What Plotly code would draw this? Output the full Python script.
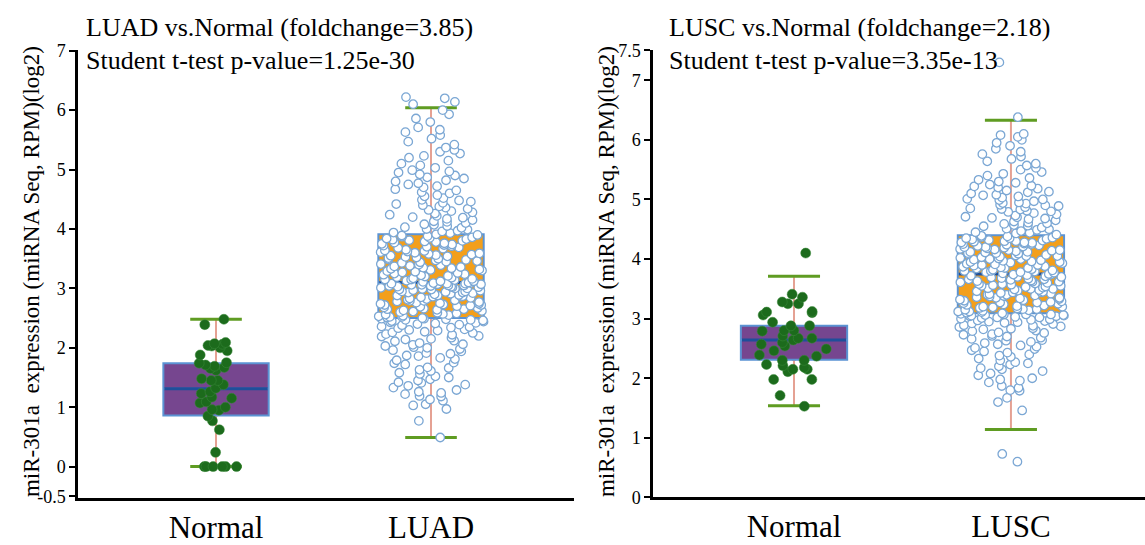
import plotly.graph_objects as go

# ---------------- data ----------------
categories_left = ["Normal", "LUAD"]
categories_right = ["Normal", "LUSC"]

titles_left = ["LUAD vs.Normal (foldchange=3.85)", "Student t-test p-value=1.25e-30"]
titles_right = ["LUSC vs.Normal (foldchange=2.18)", "Student t-test p-value=3.35e-13"]
y_title = "miR-301a  expression (miRNA Seq, RPM)(log2)"

# box statistics [Normal, Tumor]
left_q1 = [0.86, 2.50]
left_median = [1.31, 3.10]
left_q3 = [1.74, 3.91]
left_lower = [0.0, 0.49]
left_upper = [2.48, 6.04]

right_q1 = [2.31, 3.09]
right_median = [2.64, 3.75]
right_q3 = [2.88, 4.40]
right_lower = [1.54, 1.14]
right_upper = [3.71, 6.33]

left_ticks = [-0.5, 0, 1, 2, 3, 4, 5, 6, 7]
left_ticktext = ["-0.5", "0", "1", "2", "3", "4", "5", "6", "7"]
right_ticks = [0, 1, 2, 3, 4, 5, 6, 7, 7.5]
right_ticktext = ["0", "1", "2", "3", "4", "5", "6", "7", "7.5"]

normal_luad = [2.48, 2.39, 2.09, 2.07, 2.06, 2.04, 2.03, 2.00, 1.95, 1.88,
               1.75, 1.74, 1.71, 1.69, 1.67, 1.65, 1.62, 1.48, 1.45, 1.45,
               1.38, 1.32, 1.26, 1.23, 1.17, 1.15, 1.09, 1.07, 1.00, 0.96,
               0.95, 0.85, 0.77, 0.62, 0.24, 0.0, 0.0, 0.0, 0.0, 0.0, 0.0]

luad = [0.49, 0.77, 0.97, 1.03, 1.05, 1.11, 1.13, 1.18, 1.19, 1.22,
        1.24, 1.26, 1.29, 1.33, 1.36, 1.38, 1.41, 1.42, 1.45, 1.47,
        1.5, 1.52, 1.56, 1.58, 1.61, 1.63, 1.66, 1.67, 1.72, 1.74,
        1.75, 1.79, 1.81, 1.83, 1.86, 1.87, 1.9, 1.91, 1.94, 1.96,
        1.98, 2.0, 2.01, 2.03, 2.05, 2.06, 2.08, 2.11, 2.12, 2.14,
        2.15, 2.17, 2.19, 2.2, 2.22, 2.23, 2.25, 2.26, 2.27, 2.29,
        2.3, 2.31, 2.33, 2.34, 2.35, 2.36, 2.38, 2.39, 2.4, 2.41,
        2.42, 2.43, 2.44, 2.45, 2.46, 2.47, 2.47, 2.48, 2.49, 2.49,
        2.5, 2.51, 2.52, 2.52, 2.54, 2.55, 2.56, 2.57, 2.58, 2.6,
        2.61, 2.62, 2.63, 2.64, 2.65, 2.66, 2.67, 2.68, 2.69, 2.7,
        2.71, 2.72, 2.73, 2.74, 2.74, 2.75, 2.76, 2.77, 2.78, 2.79,
        2.8, 2.81, 2.82, 2.83, 2.84, 2.85, 2.86, 2.86, 2.87, 2.88,
        2.89, 2.9, 2.91, 2.92, 2.93, 2.94, 2.95, 2.95, 2.96, 2.97,
        2.98, 2.99, 3.0, 3.0, 3.01, 3.02, 3.03, 3.03, 3.04, 3.05,
        3.05, 3.06, 3.06, 3.07, 3.07, 3.08, 3.08, 3.08, 3.09, 3.09,
        2.53, 2.59, 2.65, 2.72, 2.79, 2.88, 2.93, 2.98, 3.02, 3.04,
        3.1, 3.11, 3.12, 3.13, 3.14, 3.15, 3.16, 3.17, 3.18, 3.19,
        3.2, 3.21, 3.23, 3.24, 3.25, 3.27, 3.28, 3.29, 3.31, 3.32,
        3.33, 3.35, 3.36, 3.37, 3.39, 3.4, 3.41, 3.43, 3.44, 3.45,
        3.47, 3.48, 3.49, 3.51, 3.52, 3.53, 3.55, 3.56, 3.57, 3.59,
        3.6, 3.61, 3.63, 3.64, 3.65, 3.67, 3.68, 3.69, 3.71, 3.72,
        3.73, 3.75, 3.76, 3.77, 3.79, 3.8, 3.81, 3.83, 3.84, 3.85,
        3.87, 3.88, 3.89, 3.12, 3.22, 3.34, 3.46, 3.58, 3.7, 3.82,
        3.15, 3.26, 3.38, 3.5, 3.62, 3.74, 3.86, 3.3, 3.54, 3.78,
        3.9, 3.91, 3.93, 3.94, 3.96, 3.97, 3.99, 4.0, 4.02, 4.03,
        4.05, 4.07, 4.08, 4.1, 4.12, 4.13, 4.15, 4.17, 4.19, 4.2,
        4.22, 4.24, 4.26, 4.28, 4.3, 4.32, 4.34, 4.36, 4.38, 4.4,
        4.42, 4.44, 4.46, 4.48, 4.49,
        4.52, 4.55, 4.57, 4.6, 4.62, 4.65, 4.67, 4.7, 4.72, 4.75,
        4.77, 4.8, 4.82, 4.85, 4.87, 4.9, 4.92, 4.95, 4.97, 4.99,
        5.03, 5.07, 5.1, 5.15, 5.2, 5.23, 5.27, 5.3, 5.33, 5.37, 5.42, 5.47,
        5.52, 5.58, 5.63, 5.67, 5.71, 5.8, 5.86, 5.93, 6.0, 6.1, 6.14, 6.2, 6.22]

normal_lusc = [4.10, 3.41, 3.36, 3.28, 3.25, 3.25, 3.11, 3.06, 3.12, 3.10,
               2.94, 2.88, 2.88, 2.80, 2.80, 2.79, 2.71, 2.67, 2.64, 2.67,
               2.60, 2.57, 2.54, 2.49, 2.46, 2.39, 2.37, 2.30, 2.30, 2.23,
               2.21, 2.18, 2.15, 2.15, 2.11, 1.98, 1.98, 1.71, 1.53]

lusc = [0.6, 0.73, 1.46, 1.6, 1.67, 1.79, 1.8, 1.84, 1.87, 1.93,
        1.96, 1.98, 2.0, 2.05, 2.08, 2.12, 2.15, 2.17, 2.2, 2.23,
        2.25, 2.27, 2.3, 2.33, 2.36, 2.38, 2.4, 2.43, 2.45, 2.47,
        2.49, 2.51, 2.53, 2.55, 2.57, 2.59, 2.61, 2.63, 2.64, 2.66,
        2.68, 2.7, 2.71, 2.73, 2.74, 2.76, 2.77, 2.79, 2.8, 2.82,
        2.83, 2.84, 2.86, 2.87, 2.88, 2.89, 2.91, 2.92, 2.93, 2.94,
        2.95, 2.96, 2.97, 2.98, 2.99, 3.0, 3.01, 3.02, 3.02, 3.03,
        3.04, 3.04, 3.05, 3.05, 3.06, 3.06, 3.07, 3.07, 3.07, 3.08,
        3.09, 3.1, 3.11, 3.12, 3.13, 3.14, 3.15, 3.16, 3.17, 3.18,
        3.19, 3.2, 3.21, 3.22, 3.23, 3.24, 3.25, 3.26, 3.27, 3.28,
        3.29, 3.3, 3.31, 3.32, 3.33, 3.34, 3.35, 3.36, 3.37, 3.38,
        3.39, 3.4, 3.41, 3.42, 3.43, 3.44, 3.45, 3.46, 3.47, 3.48,
        3.49, 3.5, 3.51, 3.52, 3.53, 3.54, 3.55, 3.56, 3.57, 3.58,
        3.59, 3.6, 3.61, 3.62, 3.63, 3.64, 3.65, 3.66, 3.67, 3.68,
        3.69, 3.7, 3.71, 3.72, 3.73, 3.74, 3.74, 3.12, 3.27, 3.44,
        3.58, 3.66, 3.2, 3.35, 3.5, 3.62, 3.7, 3.16, 3.4, 3.55,
        3.75, 3.76, 3.77, 3.78, 3.79, 3.8, 3.81, 3.82, 3.83, 3.84,
        3.85, 3.86, 3.87, 3.88, 3.89, 3.9, 3.91, 3.92, 3.93, 3.94,
        3.95, 3.96, 3.97, 3.98, 3.99, 4.0, 4.01, 4.02, 4.03, 4.04,
        4.05, 4.06, 4.07, 4.08, 4.09, 4.1, 4.11, 4.12, 4.13, 4.14,
        4.15, 4.16, 4.17, 4.18, 4.19, 4.2, 4.21, 4.22, 4.23, 4.24,
        4.25, 4.26, 4.27, 4.28, 4.29, 4.3, 4.31, 4.32, 4.33, 4.34,
        4.35, 4.36, 4.37, 4.38, 4.39, 3.8, 3.9, 4.0, 4.1, 4.2,
        4.3, 3.85, 3.95, 4.05, 4.15, 4.25, 4.35, 3.78, 4.12, 4.28,
        4.41, 4.43, 4.45, 4.47, 4.49, 4.51, 4.53, 4.55, 4.57, 4.59,
        4.61, 4.63, 4.65, 4.67, 4.69, 4.71, 4.73, 4.75, 4.77, 4.79,
        4.81, 4.83, 4.85, 4.87, 4.89, 4.91, 4.93, 4.95, 4.97, 4.99,
        5.01, 5.03, 5.05, 5.08, 5.1, 5.13, 5.15, 5.18, 5.2, 5.23,
        5.25, 5.28, 5.3, 5.33, 5.36, 5.4, 5.43, 5.46, 5.5, 5.53,
        5.57, 5.6, 5.64, 5.68, 5.72, 5.76, 5.8, 5.85, 5.9, 5.95,
        6.0, 6.05, 6.08, 6.1, 6.38, 7.3, 4.5, 4.6, 4.7, 4.8,
        4.9, 5.0, 5.12, 5.22, 4.44, 4.56, 4.68, 4.84, 4.94, 5.07]

# ---------------- styles ----------------
FONT = "Liberation Serif, Times New Roman, serif"
BOX_W = 0.49
CAP_W = 0.24
BOX_FILLS = ["#76468f", "#f39f1b"]
BOX_EDGE = "#5b93d3"
MEDIAN_COLOR = "#1f4f9a"
WHISKER_COLOR = "#e5a193"
CAP_COLOR = "#5f9c22"
NORMAL_PT = "#1c6b1c"
TUMOR_PT_EDGE = "#7ba7d4"

fig = go.Figure()
NOHOVER = dict(showlegend=False, hoverinfo="skip")


def add_panel(xa, ya, q1, med, q3, lo, hi, normal_vals, tumor_vals):
    positions = [0, 1]
    for i, p in enumerate(positions):
        # whisker (thin box hidden behind the main box, whiskers only visible)
        fig.add_trace(go.Box(x=[p], q1=[q1[i]], median=[med[i]], q3=[q3[i]],
                             lowerfence=[lo[i]], upperfence=[hi[i]], whiskerwidth=0,
                             width=0.01, fillcolor=WHISKER_COLOR,
                             line=dict(color=WHISKER_COLOR, width=2),
                             xaxis=xa, yaxis=ya, **NOHOVER))
        # caps (flat boxes)
        for v in (lo[i], hi[i]):
            fig.add_trace(go.Box(x=[p], q1=[v], median=[v], q3=[v],
                                 lowerfence=[v], upperfence=[v], whiskerwidth=0,
                                 width=CAP_W, line=dict(color=CAP_COLOR, width=3),
                                 xaxis=xa, yaxis=ya, **NOHOVER))
        # main box
        fig.add_trace(go.Box(x=[p], q1=[q1[i]], median=[med[i]], q3=[q3[i]],
                             lowerfence=[q1[i]], upperfence=[q3[i]], whiskerwidth=0,
                             width=BOX_W, fillcolor=BOX_FILLS[i],
                             line=dict(color=BOX_EDGE, width=2),
                             xaxis=xa, yaxis=ya, **NOHOVER))
        # median (flat box)
        fig.add_trace(go.Box(x=[p], q1=[med[i]], median=[med[i]], q3=[med[i]],
                             lowerfence=[med[i]], upperfence=[med[i]], whiskerwidth=0,
                             width=BOX_W - 0.01, line=dict(color=MEDIAN_COLOR, width=3),
                             xaxis=xa, yaxis=ya, **NOHOVER))
    fig.add_trace(go.Box(y=normal_vals, x0=0, boxpoints="all", jitter=1.0, pointpos=0,
                         width=BOX_W * 0.75, fillcolor="rgba(0,0,0,0)",
                         line=dict(color="rgba(0,0,0,0)", width=0),
                         marker=dict(color=NORMAL_PT, size=10,
                                     line=dict(color="#3d8a3d", width=0.5)),
                         xaxis=xa, yaxis=ya, showlegend=False, hoveron="points"))
    fig.add_trace(go.Box(y=tumor_vals, x0=1, boxpoints="all", jitter=1.0, pointpos=0,
                         width=BOX_W, fillcolor="rgba(0,0,0,0)",
                         line=dict(color="rgba(0,0,0,0)", width=0),
                         marker=dict(color="white", size=8.5,
                                     line=dict(color=TUMOR_PT_EDGE, width=1.3)),
                         xaxis=xa, yaxis=ya, showlegend=False, hoveron="points"))


add_panel("x", "y", left_q1, left_median, left_q3, left_lower, left_upper, normal_luad, luad)
add_panel("x2", "y2", right_q1, right_median, right_q3, right_lower, right_upper, normal_lusc, lusc)

W, H = 1145, 545
yd = [(H - 507) / H, (H - 42) / H]
yd2 = [(H - 506) / H, (H - 42) / H]

axis_common = dict(showgrid=False, zeroline=False, showline=True, linecolor="black",
                   linewidth=2.5)
xaxis_common = dict(axis_common, ticks="", tickfont=dict(family=FONT, size=31, color="black"))
yaxis_common = dict(axis_common, ticks="outside", ticklen=6, tickwidth=2, tickcolor="black",
                    tickfont=dict(family=FONT, size=18, color="black"))

fig.update_layout(
    width=W, height=H, margin=dict(l=0, r=0, t=0, b=0),
    paper_bgcolor="white", plot_bgcolor="white", boxmode="overlay",
    showlegend=False,
    xaxis=dict(xaxis_common, domain=[78 / W, 574 / W], range=[-0.642, 1.665],
               tickvals=[0, 1], ticktext=categories_left, anchor="y"),
    yaxis=dict(yaxis_common, domain=yd, range=[-0.535, 7.005],
               tickvals=left_ticks, ticktext=left_ticktext, anchor="x"),
    xaxis2=dict(xaxis_common, domain=[653 / W, 1.0], range=[-0.65, 1.618],
                tickvals=[0, 1], ticktext=categories_right, anchor="y2"),
    yaxis2=dict(yaxis_common, domain=yd2, range=[0, 7.5],
                tickvals=right_ticks, ticktext=right_ticktext, anchor="x2"),
)

annotations = []
for tx, lines in ((84, titles_left), (667, titles_right)):
    for k, ty in enumerate((18, 52)):
        annotations.append(dict(text=lines[k], xref="paper", yref="paper",
                                x=tx / W, y=(H - ty) / H, xanchor="left", yanchor="middle",
                                showarrow=False, font=dict(family=FONT, size=26, color="black")))
for tx in (31, 606):
    annotations.append(dict(text=y_title, xref="paper", yref="paper", textangle=-90,
                            x=tx / W, y=(H - 272) / H, xanchor="center", yanchor="middle",
                            showarrow=False, font=dict(family=FONT, size=23, color="black")))
fig.update_layout(annotations=annotations)

fig.write_html("out.html")
